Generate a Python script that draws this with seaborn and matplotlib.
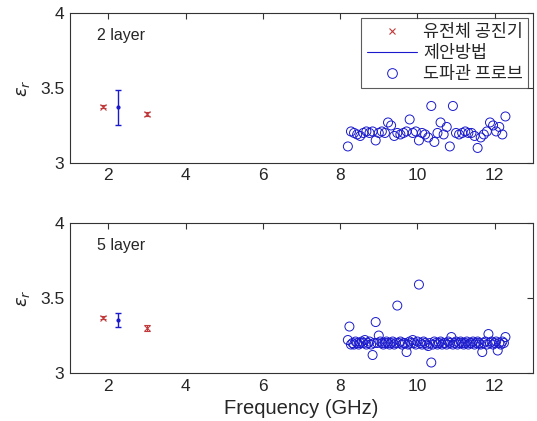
"""유전율 측정 비교 그래프 (2 layer / 5 layer)"""
import numpy as np
import pandas as pd
import matplotlib
matplotlib.use('Agg')
import matplotlib.pyplot as plt
import seaborn as sns
from matplotlib.lines import Line2D

# 유전체 공진기 (dielectric resonator) 측정값
dr_freq = [1.87, 3.0]
dr_eps_2 = [3.375, 3.325]
dr_err_2 = [0.01, 0.015]
dr_eps_5 = [3.37, 3.298]
dr_err_5 = [0.01, 0.02]

# 제안방법 (proposed method)
pm_freq = [2.26]
pm_eps_2 = [3.37]
pm_err_2 = [0.115]
pm_eps_5 = [3.353]
pm_err_5 = [0.045]

# 도파관 프로브 (waveguide probe) - 2 layer
wg_freq_2 = [8.20, 8.28, 8.36, 8.44, 8.52, 8.60, 8.68, 8.76, 8.84, 8.92,
             9.00, 9.08, 9.16, 9.24, 9.32, 9.40, 9.48, 9.56, 9.64, 9.72,
             9.80, 9.88, 9.96, 10.04, 10.12, 10.20, 10.28, 10.36, 10.44, 10.52,
             10.60, 10.68, 10.76, 10.84, 10.92, 11.00, 11.08, 11.16, 11.24, 11.32,
             11.40, 11.48, 11.56, 11.64, 11.72, 11.80, 11.88, 11.96, 12.04, 12.12,
             12.20, 12.28]
wg_eps_2 = [3.11, 3.21, 3.20, 3.19, 3.18, 3.20, 3.21, 3.20, 3.21, 3.15,
            3.20, 3.21, 3.20, 3.27, 3.25, 3.18, 3.20, 3.19, 3.20, 3.21,
            3.29, 3.20, 3.21, 3.15, 3.20, 3.19, 3.17, 3.38, 3.14, 3.20,
            3.27, 3.19, 3.24, 3.11, 3.38, 3.20, 3.19, 3.20, 3.21, 3.20,
            3.20, 3.18, 3.10, 3.17, 3.19, 3.21, 3.27, 3.25, 3.21, 3.24,
            3.19, 3.31]

# 도파관 프로브 - 5 layer
wg_freq_5 = [8.20, 8.24, 8.28, 8.32, 8.36, 8.40, 8.44, 8.48, 8.52, 8.56,
             8.60, 8.64, 8.68, 8.72, 8.76, 8.80, 8.84, 8.88, 8.92, 8.96,
             9.00, 9.04, 9.08, 9.12, 9.16, 9.20, 9.24, 9.28, 9.32, 9.36,
             9.40, 9.44, 9.48, 9.52, 9.56, 9.60, 9.64, 9.68, 9.72, 9.76,
             9.80, 9.84, 9.88, 9.92, 9.96, 10.00, 10.04, 10.08, 10.12, 10.16,
             10.20, 10.24, 10.28, 10.32, 10.36, 10.40, 10.44, 10.48, 10.52, 10.56,
             10.60, 10.64, 10.68, 10.72, 10.76, 10.80, 10.84, 10.88, 10.92, 10.96,
             11.00, 11.04, 11.08, 11.12, 11.16, 11.20, 11.24, 11.28, 11.32, 11.36,
             11.40, 11.44, 11.48, 11.52, 11.56, 11.60, 11.64, 11.68, 11.72, 11.76,
             11.80, 11.84, 11.88, 11.92, 11.96, 12.00, 12.04, 12.08, 12.12, 12.16,
             12.20, 12.24, 12.28]
wg_eps_5 = [3.22, 3.31, 3.19, 3.20, 3.19, 3.21, 3.20, 3.19, 3.20, 3.21,
            3.20, 3.22, 3.19, 3.20, 3.21, 3.19, 3.12, 3.20, 3.34, 3.20,
            3.25, 3.21, 3.20, 3.19, 3.20, 3.21, 3.20, 3.19, 3.20, 3.21,
            3.19, 3.20, 3.45, 3.20, 3.21, 3.19, 3.20, 3.20, 3.14, 3.19,
            3.21, 3.20, 3.22, 3.20, 3.19, 3.21, 3.59, 3.20, 3.19, 3.21,
            3.20, 3.19, 3.18, 3.20, 3.07, 3.19, 3.21, 3.20, 3.19, 3.20,
            3.21, 3.19, 3.20, 3.20, 3.19, 3.21, 3.20, 3.24, 3.19, 3.20,
            3.21, 3.19, 3.20, 3.21, 3.20, 3.19, 3.20, 3.21, 3.19, 3.20,
            3.20, 3.21, 3.19, 3.20, 3.21, 3.20, 3.19, 3.14, 3.20, 3.21,
            3.19, 3.26, 3.20, 3.21, 3.19, 3.20, 3.21, 3.15, 3.20, 3.19,
            3.21, 3.20, 3.24]

x_ticks = [2, 4, 6, 8, 10, 12]
y_ticks = [3, 3.5, 4]
y_tick_labels = ['3', '3.5', '4']
legend_labels = ['유전체 공진기', '제안방법', '도파관 프로브']

RED = '#c0393b'
BLUE = '#1a1acc'

sns.set_style('white')
plt.rcParams['font.family'] = ['Liberation Sans', 'Noto Sans CJK KR', 'DejaVu Sans']
plt.rcParams['mathtext.fontset'] = 'dejavusans'

fig = plt.figure(figsize=(5.37, 4.21), dpi=100)
ax_top = fig.add_axes([0.130, 0.613, 0.863, 0.356])
ax_bot = fig.add_axes([0.130, 0.114, 0.863, 0.356])

panels = [
    (ax_top, '2 layer', dr_eps_2, dr_err_2, pm_eps_2, pm_err_2, wg_freq_2, wg_eps_2),
    (ax_bot, '5 layer', dr_eps_5, dr_err_5, pm_eps_5, pm_err_5, wg_freq_5, wg_eps_5),
]

for ax, title, dr_eps, dr_err, pm_eps, pm_err, wg_freq, wg_eps in panels:
    df = pd.DataFrame({'freq': wg_freq, 'eps': wg_eps})
    sns.scatterplot(data=df, x='freq', y='eps', ax=ax, marker='o', s=42,
                    facecolor='none', edgecolor=BLUE, linewidth=0.7, zorder=3)
    ax.errorbar(dr_freq, dr_eps, yerr=dr_err, fmt='x', color=RED, ms=4,
                mew=0.8, elinewidth=0.8, capsize=2.5, zorder=4)
    ax.errorbar(pm_freq, pm_eps, yerr=pm_err, fmt='.', color=BLUE, ms=4,
                elinewidth=1.0, capsize=2.5, zorder=4)

    ax.set_xlim(1, 13)
    ax.set_ylim(3, 4)
    ax.set_xticks(x_ticks)
    ax.set_xticklabels([str(t) for t in x_ticks])
    ax.set_yticks(y_ticks)
    ax.set_yticklabels(y_tick_labels)
    ax.tick_params(direction='in', length=4, width=0.8, top=True, right=True,
                   labelsize=12.5, pad=4, color='#333333')
    for sp in ax.spines.values():
        sp.set_visible(True)
        sp.set_color('#333333')
        sp.set_linewidth(0.8)
    ax.set_ylabel(r'$\epsilon_r$', fontsize=13, labelpad=6)
    ax.set_xlabel('')
    ax.text(0.058, 0.85, title, transform=ax.transAxes, fontsize=11.5,
            va='center', ha='left')

ax_bot.set_xlabel('Frequency (GHz)', fontsize=14.5, labelpad=4)

handles = [
    Line2D([], [], linestyle='none', marker='x', color=RED, ms=4, mew=0.8),
    Line2D([], [], color=BLUE, lw=0.8),
    Line2D([], [], linestyle='none', marker='o', mfc='none', mec=BLUE, ms=7, mew=0.7),
]
leg = ax_top.legend(handles, legend_labels, loc='upper right',
                    prop={'family': ['Noto Sans CJK KR'], 'size': 12.5},
                    frameon=True, fancybox=False, edgecolor='#333333',
                    borderaxespad=0.3, labelspacing=0.15, handlelength=2.9,
                    handletextpad=0.35, borderpad=0.3)
leg.get_frame().set_linewidth(0.8)

fig.savefig('out.png', dpi=100)
